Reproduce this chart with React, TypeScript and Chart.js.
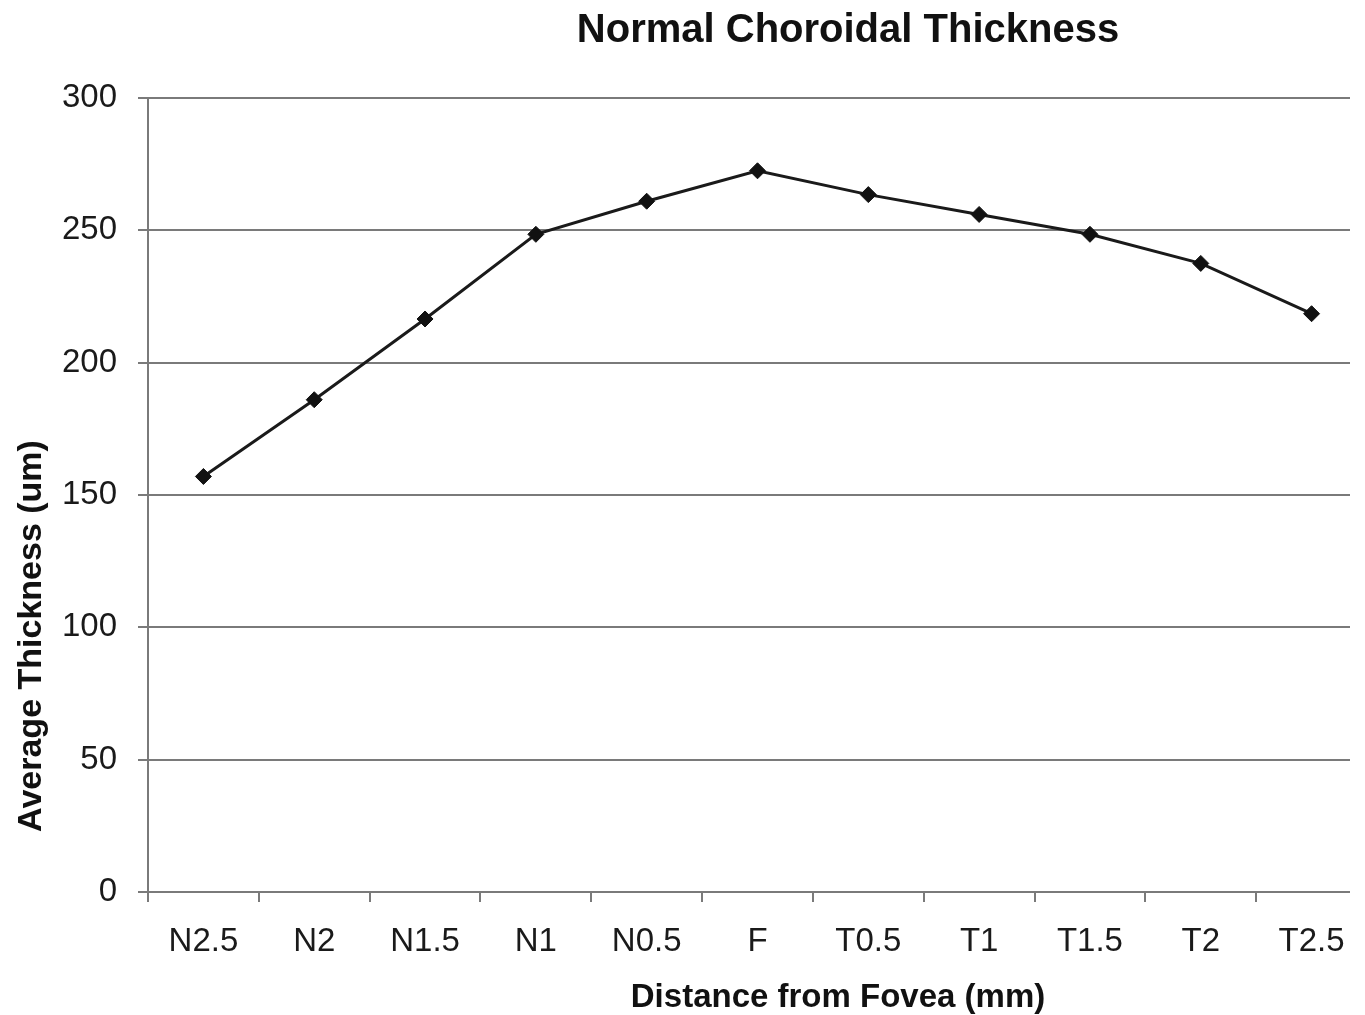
import React, { useEffect, useRef } from "react";
import { Chart, registerables } from "chart.js";

Chart.register(...registerables);

const categories = ["N2.5", "N2", "N1.5", "N1", "N0.5", "F", "T0.5", "T1", "T1.5", "T2", "T2.5"];
const thickness = [157, 186, 216.5, 248.5, 261, 272.5, 263.5, 256, 248.5, 237.5, 218.5];
const yTicks = [0, 50, 100, 150, 200, 250, 300];
const chartTitle = "Normal Choroidal Thickness";
const xTitle = "Distance from Fovea (mm)";
const yTitle = "Average Thickness (um)";

const FONT = "'Liberation Sans', Arial, Helvetica, sans-serif";
const GRID = "#7a7a7a";

const titlesPlugin = {
  id: "customTitles",
  afterDraw(chart: any) {
    const ctx = chart.ctx;
    ctx.save();
    ctx.fillStyle = "#111";
    ctx.textAlign = "center";
    ctx.textBaseline = "alphabetic";
    ctx.font = `bold 40px ${FONT}`;
    ctx.fillText(chartTitle, 848, 42);
    ctx.font = `bold 33px ${FONT}`;
    ctx.fillText(xTitle, 838, 1007);
    ctx.font = `bold 34px ${FONT}`;
    ctx.translate(41, 636);
    ctx.rotate(-Math.PI / 2);
    ctx.fillText(yTitle, 0, 0);
    ctx.restore();
  },
};

export default function App() {
  const ref = useRef<HTMLCanvasElement | null>(null);
  useEffect(() => {
    if (!ref.current) return;
    const chart = new Chart(ref.current, {
      type: "line",
      data: {
        labels: categories,
        datasets: [
          {
            data: thickness,
            borderColor: "#1a1a1a",
            borderWidth: 3,
            backgroundColor: "#111",
            pointStyle: "rectRot",
            pointRadius: 8,
            pointBorderWidth: 1,
            pointBorderColor: "#111",
            pointBackgroundColor: "#111",
            tension: 0,
            fill: false,
          },
        ],
      },
      options: {
        animation: false,
        responsive: false,
        layout: { padding: { top: 98, right: 13, left: 0, bottom: 0 } },
        plugins: { legend: { display: false }, title: { display: false }, tooltip: { enabled: false } },
        scales: {
          x: {
            type: "category",
            offset: true,
            afterFit: (s: any) => {
              s.height = 123;
            },
            grid: {
              display: true,
              offset: true,
              drawOnChartArea: false,
              drawTicks: true,
              tickLength: 10,
              color: GRID,
              lineWidth: 2,
            },
            border: { display: true, color: GRID, width: 2 },
            ticks: {
              font: { family: FONT, size: 33 },
              color: "#1a1a1a",
              padding: 20,
              maxRotation: 0,
              autoSkip: false,
            },
          },
          y: {
            min: 0,
            max: 300,
            afterFit: (s: any) => {
              s.width = 148;
            },
            afterBuildTicks: (s: any) => {
              s.ticks = yTicks.map((v) => ({ value: v }));
            },
            grid: {
              color: GRID,
              lineWidth: 2,
              drawTicks: true,
              tickLength: 10,
            },
            border: { display: true, color: GRID, width: 2 },
            ticks: {
              font: { family: FONT, size: 33 },
              color: "#1a1a1a",
              padding: 21,
            },
          },
        },
      },
      plugins: [titlesPlugin],
    });
    return () => chart.destroy();
  }, []);
  return (
    <div
      style={{
        position: "fixed",
        left: 0,
        top: 0,
        width: 1350,
        height: 1015,
        overflow: "hidden",
        background: "#fff",
      }}
    >
      <canvas ref={ref} width={1380} height={1015} style={{ display: "block" }} />
    </div>
  );
}
